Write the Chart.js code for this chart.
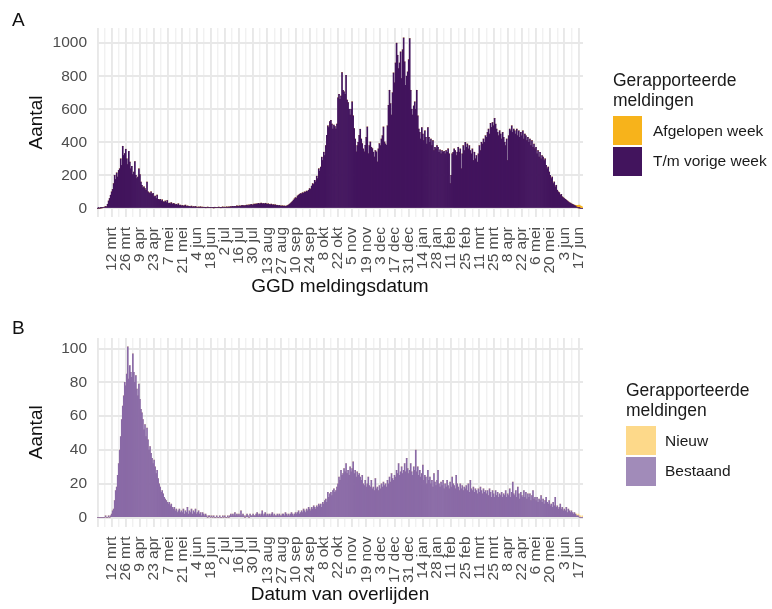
<!DOCTYPE html>
<html><head><meta charset="utf-8">
<script src="https://cdn.jsdelivr.net/npm/chart.js@4/dist/chart.umd.min.js"></script>
<style>
html,body{margin:0;padding:0;background:#fff;}
#wrap{position:relative;width:772px;height:609px;overflow:hidden;font-family:"Liberation Sans",Arial,sans-serif;background:#fff;}
canvas{position:absolute;left:0;}
.panel{position:absolute;font-size:19px;line-height:normal;color:#111;}
.leg{position:absolute;color:#1a1a1a;}
.leg .t{font-size:17.5px;line-height:20px;margin-bottom:6px;}
.leg .row{display:flex;align-items:center;height:29px;margin-bottom:1.5px;}
.leg .sw{width:29px;height:29px;margin-right:11px;flex:none;}
.leg .lb{font-size:15.5px;}
</style></head><body>
<div id="wrap">
<canvas id="cA" width="772" height="305" style="top:0"></canvas>
<canvas id="cB" width="772" height="304" style="top:305px"></canvas>
<div class="panel" style="left:12px;top:9px">A</div>
<div class="panel" style="left:12px;top:317px">B</div>
<div class="leg" style="left:613px;top:70px">
  <div class="t">Gerapporteerde<br>meldingen</div>
  <div class="row"><div class="sw" id="swA1"></div><div class="lb">Afgelopen week</div></div>
  <div class="row"><div class="sw" id="swA2"></div><div class="lb">T/m vorige week</div></div>
</div>
<div class="leg" style="left:626px;top:380px">
  <div class="t">Gerapporteerde<br>meldingen</div>
  <div class="row"><div class="sw" id="swB1" style="width:30px"></div><div class="lb" style="margin-left:-2px">Nieuw</div></div>
  <div class="row"><div class="sw" id="swB2" style="width:30px"></div><div class="lb" style="margin-left:-2px">Bestaand</div></div>
</div>
</div>
<script>
// ---------- data ----------
const startDate = '2020-02-27';          // first day on the axis
const dayCount = 481;                    // 27 feb 2020 .. 21 jun 2021
const firstTickIndex = 14;               // 12 mrt 2020
const tickStep = 14;                     // labelled break every 14 days
const tickLabels = ['12 mrt','26 mrt','9 apr','23 apr','7 mei','21 mei','4 jun','18 jun','2 jul','16 jul','30 jul','13 aug','27 aug','10 sep','24 sep','8 okt','22 okt','5 nov','19 nov','3 dec','17 dec','31 dec','14 jan','28 jan','11 feb','25 feb','11 mrt','25 mrt','8 apr','22 apr','6 mei','20 mei','3 jun','17 jun'];

const yTicksA = [0,100,200,300,400,500,600,700,800,900,1000];
const yTicksB = [0,10,20,30,40,50,60,70,80,90,100];

// Panel A: GGD meldingen per dag
const meldingenVorigeWeek = [
0,1,0,2,3,4,6,
8,12,10,25,45,60,80,
100,115,150,200,175,215,190,
230,240,300,260,376,320,332,
358,300,265,345,280,240,255,
205,220,284,200,180,190,240,
205,160,140,125,130,120,110,
160,100,95,90,100,85,92,
70,75,60,80,55,50,55,
45,52,40,38,45,35,48,
30,32,28,35,25,30,28,
22,25,20,28,18,20,15,
18,14,16,20,12,15,13,
12,10,14,8,11,9,12,
8,6,9,7,10,6,8,
5,7,4,6,8,5,6,
4,6,5,3,7,5,6,
5,8,6,4,7,9,6,
8,6,9,7,10,8,11,
9,12,10,13,11,15,12,
14,16,13,18,15,17,14,
18,20,16,22,19,24,20,
22,26,24,28,25,30,27,
29,32,27,30,26,31,28,
25,28,24,22,26,20,23,
20,22,18,19,16,18,15,
14,16,13,15,12,14,17,
20,25,30,36,42,50,58,
65,62,75,80,85,90,88,
95,92,100,98,105,102,110,
120,115,135,150,145,170,160,
195,180,240,225,250,310,290,
340,320,380,442,500,490,525,
533,510,480,505,495,480,510,
670,690,660,680,822,715,705,
690,806,655,640,600,565,600,
645,560,483,420,342,380,400,
442,479,420,392,360,342,382,
430,493,331,380,402,370,362,
340,311,350,342,281,360,392,
380,420,440,493,402,390,382,
500,624,715,634,565,700,820,
760,880,1000,927,846,880,947,
786,960,1032,887,745,800,826,
900,1028,715,600,565,620,645,
600,715,560,480,460,420,490,
450,410,470,430,390,490,430,
400,420,380,410,350,370,360,
380,370,340,355,330,350,340,
345,330,350,340,360,330,150,
200,330,340,360,350,320,340,
370,340,360,240,330,380,350,
400,370,390,360,380,350,330,
360,290,340,300,320,280,330,
380,350,400,390,420,400,440,
430,460,480,450,515,490,520,
500,545,510,480,460,440,470,
450,420,460,430,400,380,420,
290,440,480,470,500,460,480,
470,450,480,440,470,430,460,
440,470,420,450,440,410,430,
400,420,380,410,370,390,360,
370,330,350,310,340,300,320,
310,290,300,260,240,250,220,
200,180,190,150,160,130,140,
110,100,95,80,85,70,65,
60,55,50,45,40,35,32,
28,25,22,18,15,10,6,
3,2,0,0,0
];
// newly reported last week, for the last 9 days of the axis
const meldingenAfgelopenWeekTail = [2,4,8,12,16,18,15,12,8];

// Panel B: overlijdens per dag
const overlijdensBestaand = [
0,0,0,0,0,0,0,
0,1,0,0,1,0,1,
2,4,5,10,16,18,25,
32,40,48,58,66,72,80,
78,85,101,82,90,86,83,
97,86,80,84,76,72,79,
70,64,62,58,52,55,48,
53,46,40,42,38,35,32,
34,30,26,28,23,20,18,
15,16,14,12,11,10,9,
8,9,7,8,6,5,6,
4,5,3,4,5,3,4,
3,5,2,4,3,6,2,
4,3,5,2,4,3,5,
2,3,4,2,3,1,3,
2,1,2,1,0,1,1,
0,1,0,1,0,0,1,
0,0,1,0,0,1,0,
1,0,0,1,0,1,2,
1,2,1,3,1,2,1,
2,1,4,1,2,1,0,
1,2,1,0,2,1,1,
2,1,1,2,3,1,2,
1,2,4,1,2,3,1,
2,1,2,1,2,3,1,
2,1,1,2,1,2,1,
1,2,2,1,3,2,1,
2,1,2,3,2,1,2,
3,2,3,4,2,3,4,
3,5,4,3,5,4,6,
5,4,6,5,7,6,5,
7,6,8,7,8,6,9,
8,10,11,9,15,12,14,
15,13,16,17,15,16,18,
20,24,22,28,25,26,29,
27,32,26,28,25,30,27,
29,33,26,28,24,27,25,
26,24,22,25,20,19,22,
18,20,24,19,18,22,17,
18,16,23,17,18,16,19,
17,20,18,21,19,20,18,
22,20,24,21,26,23,22,
25,24,28,26,32,25,27,
30,26,28,32,27,35,29,
26,28,32,27,25,30,28,
40,27,30,25,28,24,26,
31,22,25,24,20,28,22,
24,20,22,18,26,21,19,
22,28,20,18,21,19,22,
17,20,18,22,19,17,21,
18,24,20,19,17,25,20,
18,16,20,17,19,16,18,
17,19,16,20,15,22,17,
16,18,15,17,16,14,17,
15,18,16,14,17,15,16,
14,16,13,17,15,12,16,
14,12,16,13,15,12,14,
13,15,12,14,13,16,12,
14,13,17,12,15,21,14,
13,16,12,18,14,11,15,
13,12,16,12,15,11,14,
12,14,10,13,16,11,12,
10,12,9,11,10,13,9,
11,8,10,12,9,8,10,
7,8,6,9,7,12,6,
7,5,6,8,5,6,4,
5,4,6,3,5,4,3,
4,3,2,3,2,1,1,
1,0,0,0,0
];
const overlijdensNieuwTail = [1,0,1,1,1,0,1];

// ---------- colours ----------
const colVorige = '#42145d';
const colAfgelopen = '#f7b31b';
const colBestaand = '#8a6aa6';
const colBestaandLegend = '#a18bb9';
const colNieuw = '#fdd98a';
document.getElementById('swA1').style.background = colAfgelopen;
document.getElementById('swA2').style.background = colVorige;
document.getElementById('swB1').style.background = colNieuw;
document.getElementById('swB2').style.background = colBestaandLegend;

// ---------- derived ----------
function buildDates(start, n){
  const out = []; const d0 = new Date(start + 'T12:00:00Z');
  for (let i = 0; i < n; i++){ const d = new Date(d0.getTime() + i*86400000); out.push(d.toISOString().slice(0,10)); }
  return out;
}
const categories = buildDates(startDate, dayCount);
function padTail(tail, n){ const a = new Array(n - tail.length).fill(0); return a.concat(tail); }
const meldingenAfgelopenWeek = padTail(meldingenAfgelopenWeekTail, dayCount);
const overlijdensNieuw = padTail(overlijdensNieuwTail, dayCount);

Chart.defaults.font.family = '"Liberation Sans", Arial, sans-serif';
Chart.defaults.animation = false;

function gridKind(i){
  const r = i - firstTickIndex;
  if (((r % tickStep) + tickStep) % tickStep === 0) return 2;
  if (((r % 7) + 7) % 7 === 0) return 1;
  return 0;
}
const majorCol = '#e8e8e8', minorCol = '#f1f1f1';

function makePanel(id, lower, upper, colLow, colUp, yTicks, yMin, yMax, labelEvery, xTitle, geo){
  new Chart(document.getElementById(id), {
    type: 'bar',
    data: { labels: categories, datasets: [
      { label: 'low', data: lower, backgroundColor: colLow, borderWidth: 0, barPercentage: 1, categoryPercentage: 1 },
      { label: 'up', data: upper, backgroundColor: colUp, borderWidth: 0, barPercentage: 1, categoryPercentage: 1 }
    ]},
    options: {
      responsive: false, devicePixelRatio: 1,
      layout: { padding: { left: 0, right: 772 - 583, top: geo.top, bottom: 0 } },
      plugins: { legend: { display: false }, tooltip: { enabled: false } },
      scales: {
        x: {
          stacked: true, offset: true,
          grid: { offset: false, drawTicks: false,
            color: c => { const k = gridKind(c.index); return k === 2 ? majorCol : (k === 1 ? minorCol : 'rgba(0,0,0,0)'); },
            lineWidth: c => { const k = gridKind(c.index); return k === 2 ? 1.9 : (k === 1 ? 1.4 : 0); } },
          border: { display: false },
          ticks: { autoSkip: false, minRotation: 90, maxRotation: 90, padding: 10, color: '#4d4d4d', font: { size: 15.5 },
            callback: (v, i) => { const r = i - firstTickIndex; return (r >= 0 && r % tickStep === 0) ? tickLabels[r / tickStep] : ''; } },
          title: { display: true, text: xTitle, color: '#111', font: { size: 19 }, padding: { top: 0, bottom: geo.xTitlePad } },
          afterFit: s => { s.height = geo.xHeight; }
        },
        y: {
          stacked: true, min: yMin, max: yMax,
          afterBuildTicks: s => { s.ticks = yTicks.map(v => ({ value: v })); },
          grid: { drawTicks: false,
            color: c => (c.tick && c.tick.value % labelEvery === 0) ? majorCol : minorCol,
            lineWidth: c => (c.tick && c.tick.value % labelEvery === 0) ? 1.9 : 1.4 },
          border: { display: false },
          ticks: { padding: 10, color: '#4d4d4d', font: { size: 15.5 },
            callback: v => (v % labelEvery === 0 ? String(v) : '') },
          title: { display: true, text: 'Aantal', color: '#111', font: { size: 19 }, padding: { top: 25.6, bottom: 0 } },
          afterFit: s => { s.width = 97; }
        }
      }
    }
  });
}

makePanel('cA', meldingenVorigeWeek, meldingenAfgelopenWeek, colVorige, colAfgelopen, yTicksA, -52, 1092, 200,
  'GGD meldingsdatum', { top: 28, xHeight: 88, xTitlePad: 6.6 });
makePanel('cB', overlijdensBestaand, overlijdensNieuw, colBestaand, colNieuw, yTicksB, -5.3, 106.3, 20,
  'Datum van overlijden', { top: 33, xHeight: 82.5, xTitlePad: 2.6 });
</script>
</body></html>
